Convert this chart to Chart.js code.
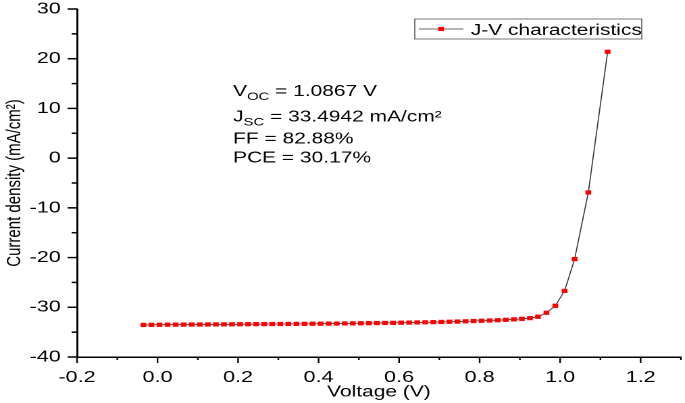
<!DOCTYPE html>
<html>
<head>
<meta charset="utf-8">
<script src="https://cdn.jsdelivr.net/npm/chart.js@4.4.1/dist/chart.umd.min.js"></script>
<style>
  html, body { margin: 0; padding: 0; background: #fff; overflow: hidden; }
  #wrap { position: absolute; left: 0; top: 0; width: 507px; height: 403px; transform: scaleX(1.351); transform-origin: 0 0; }
</style>
</head>
<body>
<div id="wrap"><canvas id="c" width="507" height="403"></canvas></div>
<script>
// ---- data ----
const voltage = [
  -0.035, -0.015, 0.005, 0.025, 0.045, 0.065, 0.085, 0.105, 0.125, 0.145,
  0.165, 0.185, 0.205, 0.225, 0.245, 0.265, 0.285, 0.305, 0.325, 0.345,
  0.365, 0.385, 0.405, 0.425, 0.445, 0.465, 0.485, 0.505, 0.525, 0.545,
  0.565, 0.585, 0.605, 0.625, 0.645, 0.665, 0.685, 0.705, 0.725, 0.745,
  0.765, 0.785, 0.805, 0.825, 0.845, 0.865, 0.885, 0.905, 0.925, 0.945,
  0.966, 0.988, 1.011, 1.036, 1.070, 1.118
];
const currentDensity = [
  -33.55, -33.53, -33.52, -33.50, -33.49, -33.48, -33.47, -33.46, -33.45, -33.44,
  -33.43, -33.42, -33.41, -33.40, -33.39, -33.38, -33.37, -33.36, -33.35, -33.34,
  -33.33, -33.31, -33.30, -33.28, -33.27, -33.25, -33.23, -33.21, -33.19, -33.17,
  -33.15, -33.13, -33.10, -33.08, -33.05, -33.02, -32.99, -32.95, -32.91, -32.87,
  -32.82, -32.76, -32.71, -32.66, -32.60, -32.52, -32.43, -32.32, -32.18, -31.90,
  -31.10, -29.70, -26.70, -20.30, -6.90, 21.40
];
const seriesLabel = 'J-V characteristics';
const xMajorTicks = [-0.2, 0.0, 0.2, 0.4, 0.6, 0.8, 1.0, 1.2];
const yMajorTicks = [30, 20, 10, 0, -10, -20, -30, -40];
const xTitle = 'Voltage (V)';
const yTitle = 'Current density (mA/cm\u00B2)';
const annotationLines = [
  ['V', 'OC', ' = 1.0867 V'],
  ['J', 'SC', ' = 33.4942 mA/cm\u00B2'],
  ['FF = 82.88%', '', ''],
  ['PCE = 30.17%', '', '']
];

const FONT = '"Liberation Sans", Arial, sans-serif';
const LINE_COLOR = '#333333';
const MARK_COLOR = '#ff0000';

function isMajor(list, v) { return list.some(m => Math.abs(m - v) < 1e-6); }

const extras = {
  id: 'extras',
  afterDraw(chart) {
    const ctx = chart.ctx;
    const xs = chart.scales.x, ys = chart.scales.y;
    ctx.save();
    ctx.strokeStyle = '#000';
    ctx.lineWidth = 1.2;
    // x ticks (outward, down)
    xs.ticks.forEach(t => {
      const px = xs.getPixelForValue(t.value);
      const len = isMajor(xMajorTicks, t.value) ? 6 : 3;
      ctx.beginPath(); ctx.moveTo(px, xs.top); ctx.lineTo(px, xs.top + len); ctx.stroke();
    });
    // y ticks (outward, left)
    ctx.lineWidth = 1.5;
    ys.ticks.forEach(t => {
      const py = ys.getPixelForValue(t.value);
      const len = isMajor(yMajorTicks, t.value) ? 7 : 4;
      ctx.beginPath(); ctx.moveTo(ys.right, py); ctx.lineTo(ys.right - len, py); ctx.stroke();
    });

    // legend box
    const lx = 307, ly = 19, lw = 168, lh = 20;
    ctx.lineWidth = 0.8;
    ctx.strokeStyle = '#555';
    ctx.strokeRect(lx, ly, lw, lh);
    ctx.strokeStyle = LINE_COLOR;
    ctx.lineWidth = 0.8;
    ctx.beginPath(); ctx.moveTo(lx + 3, ly + lh / 2); ctx.lineTo(lx + 36, ly + lh / 2); ctx.stroke();
    ctx.fillStyle = MARK_COLOR;
    ctx.fillRect(lx + 19.5 - 2.1, ly + lh / 2 - 2.1, 4.2, 4.2);
    ctx.fillStyle = '#000';
    ctx.font = '15.5px ' + FONT;
    ctx.textBaseline = 'alphabetic';
    ctx.textAlign = 'left';
    ctx.fillText(seriesLabel, lx + 41.5, ly + 16);

    // annotation text
    const ax = 172.5;
    const baselines = [96, 121.7, 143.3, 162.7];
    annotationLines.forEach((ln, i) => {
      let x = ax;
      const y = baselines[i];
      ctx.font = '15.5px ' + FONT;
      ctx.fillText(ln[0], x, y);
      x += ctx.measureText(ln[0]).width;
      if (ln[1]) {
        ctx.font = '11px ' + FONT;
        ctx.fillText(ln[1], x, y + 4);
        x += ctx.measureText(ln[1]).width;
      }
      if (ln[2]) {
        ctx.font = '15.5px ' + FONT;
        ctx.fillText(ln[2], x, y);
      }
    });
    ctx.restore();
  }
};

new Chart(document.getElementById('c'), {
  type: 'scatter',
  data: {
    datasets: [{
      label: seriesLabel,
      data: voltage.map((v, i) => ({ x: v, y: currentDensity[i] })),
      showLine: true,
      borderColor: LINE_COLOR,
      borderWidth: 0.8,
      tension: 0,
      pointStyle: 'rect',
      pointRadius: 3,
      pointHoverRadius: 3,
      pointBackgroundColor: MARK_COLOR,
      pointBorderColor: MARK_COLOR,
      pointBorderWidth: 0
    }]
  },
  options: {
    responsive: false,
    animation: false,
    devicePixelRatio: 2,
    layout: { padding: { top: 9, right: 1, left: 0, bottom: 0 } },
    plugins: { legend: { display: false }, tooltip: { enabled: false } },
    scales: {
      x: {
        type: 'linear',
        min: -0.2, max: 1.3,
        afterFit: s => { s.height = 46; s.paddingLeft = 0; s.paddingRight = 0; },
        ticks: {
          stepSize: 0.1,
          autoSkip: false,
          maxRotation: 0,
          padding: 5,
          color: '#000',
          font: { family: FONT, size: 16 },
          callback: v => isMajor(xMajorTicks, v) ? v.toFixed(1) : ''
        },
        grid: { display: true, drawOnChartArea: false, drawTicks: true, tickLength: 6, color: 'rgba(0,0,0,0)' },
        border: { display: true, color: '#000', width: 1.5 },
        title: { display: true, text: xTitle, color: '#000', font: { family: FONT, size: 15.5 }, padding: { top: 0, bottom: 1.5 } }
      },
      y: {
        type: 'linear',
        min: -40, max: 30,
        afterFit: s => { s.width = 57; s.paddingTop = 0; s.paddingBottom = 0; },
        ticks: {
          stepSize: 5,
          autoSkip: false,
          padding: 5,
          color: '#000',
          font: { family: FONT, size: 16 },
          callback: v => isMajor(yMajorTicks, v) ? String(v) : ''
        },
        grid: { display: true, drawOnChartArea: false, drawTicks: true, tickLength: 7, color: 'rgba(0,0,0,0)' },
        border: { display: true, color: '#000', width: 1.5 },
        title: { display: true, text: yTitle, color: '#000', font: { family: FONT, size: 15 }, padding: { top: 2, bottom: 0 } }
      }
    }
  },
  plugins: [extras]
});
</script>
</body>
</html>
